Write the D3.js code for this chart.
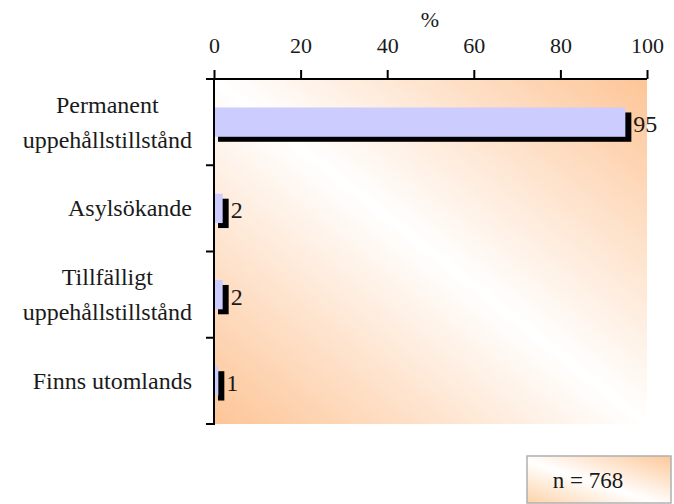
<!DOCTYPE html>
<html><head><meta charset="utf-8">
<script src="https://cdn.jsdelivr.net/npm/d3@7"></script>
<style>body{margin:0;background:#fff}svg{display:block}svg text{font-family:"Liberation Serif","Times New Roman",Times,serif !important;fill:#1a1a1a}</style>
</head><body><svg id="c" width="674" height="504"></svg>
<script>
const categories = [["Permanent","uppehållstillstånd"],["Asylsökande"],["Tillfälligt","uppehållstillstånd"],["Finns utomlands"]];
const values = [95, 2, 2, 1];
const ticks = [0, 20, 40, 60, 80, 100];
const axisTitle = "%";
const note = "n = 768";

const svg = d3.select("#c");
const m = {l:214, r:647, t:79, b:424};
const x = d3.scaleLinear().domain([0,100]).range([m.l, m.r]);
const y = d3.scaleBand().domain(d3.range(categories.length)).range([m.t, m.b]).paddingInner(0.66).paddingOuter(0.33);

const defs = svg.append("defs");
const g1 = defs.append("linearGradient").attr("id","bg").attr("x1",1).attr("y1",0).attr("x2",0).attr("y2",1);
g1.append("stop").attr("offset","0%").attr("stop-color","#fdc597");
g1.append("stop").attr("offset","50%").attr("stop-color","#ffffff");
g1.append("stop").attr("offset","100%").attr("stop-color","#fdc597");
const g2 = defs.append("linearGradient").attr("id","nb").attr("x1",1).attr("y1",0).attr("x2",0).attr("y2",1);
g2.append("stop").attr("offset","0%").attr("stop-color","#fdc899");
g2.append("stop").attr("offset","55%").attr("stop-color","#ffffff");
g2.append("stop").attr("offset","100%").attr("stop-color","#fdd2a8");

svg.append("rect").attr("x",m.l).attr("y",m.t).attr("width",m.r-m.l).attr("height",m.b-m.t).attr("fill","url(#bg)");

// shadows
svg.selectAll(".sh").data(values).join("rect")
  .attr("x", x(0)+4).attr("y",(d,i)=>y(i)+5)
  .attr("width", d=>x(d)-x(0)+2).attr("height", y.bandwidth()).attr("fill","#000");
svg.selectAll(".bar").data(values).join("rect")
  .attr("x", x(0)).attr("y",(d,i)=>y(i))
  .attr("width", d=>x(d)-x(0)).attr("height", y.bandwidth()).attr("fill","#ccccff");
svg.selectAll(".lbl").data(values).join("text")
  .attr("x", d=>x(d)+8).attr("y",(d,i)=>y(i)+y.bandwidth()/2+10)
  .style("font-size","24px").text(d=>d);

// top axis
const ax = svg.append("g").attr("transform",`translate(0,${m.t})`)
  .call(d3.axisTop(x).tickValues(ticks).tickSize(9).tickSizeOuter(0).tickPadding(17));
ax.select(".domain").attr("d",`M${m.l-8},0H${m.r}`).attr("stroke","#000").attr("stroke-width",2);
ax.selectAll(".tick line").attr("stroke","#000").attr("stroke-width",2);
ax.selectAll(".tick text").style("font-size","22px").attr("fill","#1a1a1a");

// left axis
svg.append("line").attr("x1",m.l).attr("x2",m.l).attr("y1",m.t).attr("y2",m.b+1).attr("stroke","#000").attr("stroke-width",2);
const bounds = d3.range(1, categories.length+1).map(i=>m.t + i*(m.b-m.t)/categories.length);
svg.selectAll(".yt").data(bounds).join("line")
  .attr("x1",m.l-8).attr("x2",m.l).attr("y1",d=>d).attr("y2",d=>d).attr("stroke","#000").attr("stroke-width",2);

// category labels
categories.forEach((lines,i)=>{
  const cy = m.t + (i+0.5)*(m.b-m.t)/categories.length;
  const gg = svg.append("g");
  const lh = 35;
  const ts = lines.map((t,j)=>gg.append("text").style("font-size","24px").attr("text-anchor","middle")
     .attr("y", cy + (j-(lines.length-1)/2)*lh + 8).text(t));
  const w = d3.max(ts, t=>t.node().getComputedTextLength());
  ts.forEach(t=>t.attr("x", 192 - w/2));
});

svg.append("text").attr("x",430).attr("y",27).attr("text-anchor","middle").style("font-size","22px").text(axisTitle);

svg.append("rect").attr("x",527).attr("y",456).attr("width",144).attr("height",47).attr("fill","url(#nb)").attr("stroke","#b0b0b0").attr("stroke-width",1.5);
svg.append("text").attr("x",588).attr("y",488).attr("text-anchor","middle").style("font-size","23px").text(note);
</script></body></html>
